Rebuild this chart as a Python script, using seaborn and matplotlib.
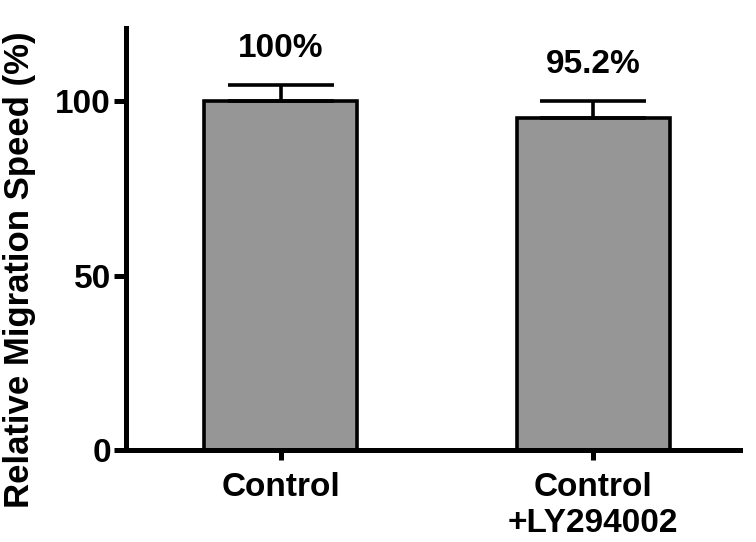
import numpy as np
import pandas as pd
import seaborn as sns
import matplotlib.pyplot as plt

# values
groups = ["Control", "Control\n+LY294002"]
speed = [100.0, 95.2]
sem_upper = [4.6, 4.8]
value_labels = ["100%", "95.2%"]

sns.set_theme(style="ticks")
plt.rcParams['font.family'] = ['Liberation Sans', 'DejaVu Sans']
plt.rcParams['font.weight'] = 'bold'
plt.rcParams['text.color'] = 'black'
plt.rcParams['axes.labelcolor'] = 'black'
plt.rcParams['axes.edgecolor'] = 'black'
plt.rcParams['xtick.color'] = 'black'
plt.rcParams['ytick.color'] = 'black'

df = pd.DataFrame({"group": groups, "speed": speed})

fig = plt.figure(figsize=(7.56, 5.42), dpi=100)
ax = fig.add_axes([0.167, 0.170, 0.812, 0.778])

sns.barplot(data=df, x="group", y="speed", color="#969696", width=0.49,
            edgecolor="black", linewidth=2.6, errorbar=None, saturation=1, ax=ax)

# upper error bars only
ax.errorbar(x=np.arange(len(groups)), y=speed, yerr=[[0] * len(groups), sem_upper],
            fmt="none", ecolor="black", elinewidth=2.6, capsize=38, capthick=2.6, zorder=1)

for i, (v, e, lab) in enumerate(zip(speed, sem_upper, value_labels)):
    ax.text(i, v + e + 10.5, lab, ha="center", va="center", fontsize=24, fontweight="bold")

ax.set_ylim(0, 121)
ax.set_xlim(-0.495, 1.47)
ax.set_yticks([0, 50, 100])
ax.set_xlabel("")
ax.set_ylabel("Relative Migration Speed (%)", fontsize=25, fontweight="bold")
ax.yaxis.set_label_coords(-0.147, 0.427)

sns.despine(ax=ax)
for sp in ["left", "bottom"]:
    ax.spines[sp].set_linewidth(3.6)
ax.tick_params(axis="y", width=3.6, length=9, labelsize=24, pad=2)
ax.tick_params(axis="x", width=3.6, length=7, labelsize=24, pad=9)
for t in ax.get_xticklabels() + ax.get_yticklabels():
    t.set_fontweight("bold")

fig.savefig("out.png", dpi=100)
